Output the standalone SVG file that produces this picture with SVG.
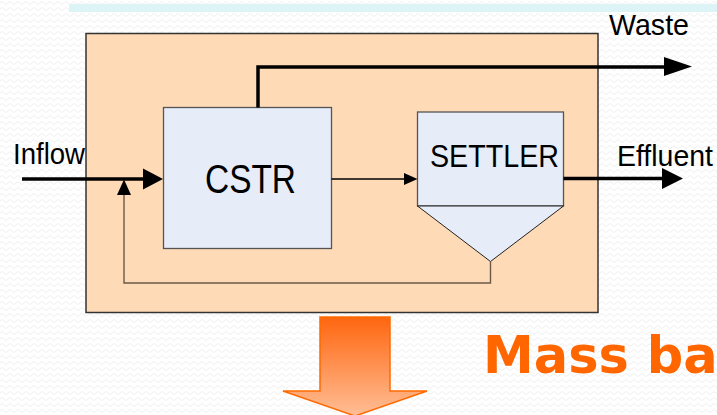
<svg xmlns="http://www.w3.org/2000/svg" width="717" height="415" viewBox="0 0 717 415">
<defs>
<pattern id="bg" width="8" height="6" patternUnits="userSpaceOnUse">
<path d="M0 3 Q2 0 4 3 T8 3" fill="none" stroke="#efefef" stroke-width="1"/>
</pattern>
<linearGradient id="og" x1="0" y1="0" x2="0" y2="1">
<stop offset="0" stop-color="#FF660F"/>
<stop offset="1" stop-color="#FFBE96"/>
</linearGradient>
</defs>
<style>
.lbl{font-family:"Liberation Sans",Arial,sans-serif;fill:#000}
.side{font-size:29px}
.big{font-size:41px}
.mid{font-size:32px}
.unit{fill:#E6ECF8;stroke:#555;stroke-width:1.3}
.thick{fill:none;stroke:#000;stroke-width:3.5}
</style>
<rect width="717" height="415" fill="#fff"/>
<rect width="717" height="415" fill="url(#bg)"/>
<rect x="69" y="4" width="648" height="8" fill="#DDF4F7"/>
<g id="system">
<rect x="86" y="33.5" width="512" height="279" fill="#FFDAB6" stroke="#333" stroke-width="1.5"/>
</g>
<g id="cstr">
<rect class="unit" x="163.5" y="107.5" width="168" height="141"/>
<text class="lbl big" x="205" y="193" textLength="91" lengthAdjust="spacingAndGlyphs">CSTR</text>
</g>
<g id="settler">
<rect class="unit" x="417.5" y="112" width="146" height="94"/>
<path d="M417.5 206 L563.5 206 L490.5 261.5 Z" fill="#E6ECF8" stroke="#222" stroke-width="1"/>
<text class="lbl mid" x="430" y="167" textLength="129" lengthAdjust="spacingAndGlyphs">SETTLER</text>
</g>
<g id="labels">
<text class="lbl side" x="13" y="164" textLength="72" lengthAdjust="spacingAndGlyphs">Inflow</text>
<text class="lbl side" x="609" y="35" textLength="80" lengthAdjust="spacingAndGlyphs">Waste</text>
<text class="lbl side" x="617" y="166" textLength="96" lengthAdjust="spacingAndGlyphs">Effluent</text>
</g>
<g id="connectors">
<path class="thick" d="M22 179 H143"/>
<path d="M143 168.5 L163 179 L143 189.5 Z" fill="#000"/>
<path class="thick" d="M258 107.5 V67 H665"/>
<path d="M664 57 L692 66.5 L664 76 Z" fill="#000"/>
<path class="thick" d="M563.5 178.5 H663"/>
<path d="M662 168 L683 178.5 L662 189 Z" fill="#000"/>
<path d="M331.5 179 H405" fill="none" stroke="#000" stroke-width="1.3"/>
<path d="M404 173 L417.5 179 L404 185 Z" fill="#000"/>
<path d="M490.5 261.5 V283 H124 V195" fill="none" stroke="#6B5A48" stroke-width="1.4"/>
<path d="M117 195 L124 179.5 L131 195 Z" fill="#000"/>
</g>
<g id="arrow">
<path d="M320 317 H390 V391 H427 L355 416 L283 391 H320 Z" fill="url(#og)" stroke="#FF6A00" stroke-width="1.5"/>
</g>
<text x="483" y="373" font-family="'DejaVu Sans',Verdana,sans-serif" font-weight="bold" font-size="51" fill="#FF6600">Mass ba</text>
</svg>
